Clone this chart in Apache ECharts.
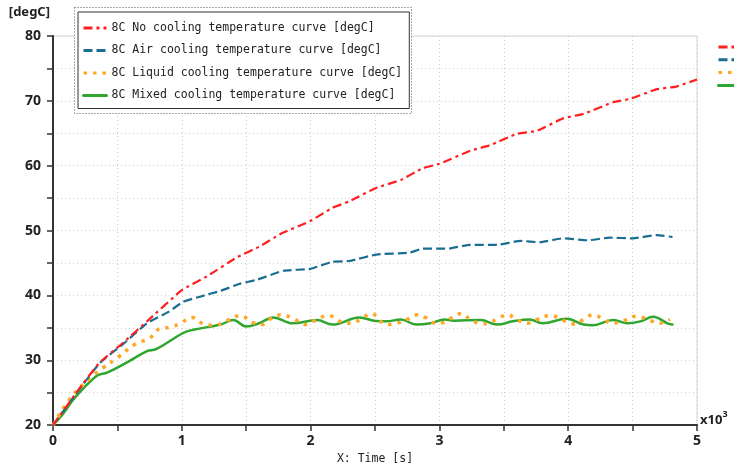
<!DOCTYPE html>
<html>
<head>
<meta charset="utf-8">
<script src="https://cdn.jsdelivr.net/npm/echarts@6/dist/echarts.min.js"></script>
<style>html,body{margin:0;padding:0;background:#fff}#c{width:734px;height:470px}</style>
</head>
<body>
<div id="c"></div>
<script>
// Time in thousands of seconds (x10^3 s), temperature in degC
const seriesNames = [
  '8C No cooling temperature curve [degC]',
  '8C Air cooling temperature curve [degC]',
  '8C Liquid cooling temperature curve [degC]',
  '8C Mixed cooling temperature curve [degC]'
];
const noCoolT = [0, 0.2, 0.36, 0.55, 0.73, 1.0, 1.2, 1.43, 1.6, 1.77, 2.0, 2.17, 2.3, 2.5, 2.7, 2.87, 3.0, 3.24, 3.4, 3.6, 3.76, 3.96, 4.12, 4.35, 4.48, 4.69, 4.84, 5.0];
const noCoolV = [20, 25.5, 29.6, 32.8, 36, 40.8, 43, 45.9, 47.5, 49.5, 51.5, 53.5, 54.5, 56.5, 57.8, 59.6, 60.3, 62.3, 63.2, 64.9, 65.4, 67.3, 68.0, 69.8, 70.3, 71.8, 72.2, 73.3];
const airT = [0, 0.2, 0.365, 0.55, 0.73, 0.9, 1.01, 1.14, 1.3, 1.45, 1.58, 1.79, 2.0, 2.17, 2.3, 2.51, 2.77, 2.87, 3.06, 3.24, 3.45, 3.63, 3.78, 3.96, 4.15, 4.32, 4.5, 4.69, 4.81];
const airV = [20, 25.4, 29.6, 32.6, 35.7, 37.5, 39, 39.8, 40.7, 41.8, 42.4, 43.8, 44.1, 45.2, 45.3, 46.3, 46.6, 47.2, 47.2, 47.8, 47.8, 48.4, 48.2, 48.8, 48.5, 48.9, 48.8, 49.3, 49.0];
const liquidT = [0, 0.15, 0.31, 0.38, 0.5, 0.64, 0.75, 0.83, 0.91, 0.99, 1.08, 1.18, 1.26, 1.34, 1.46, 1.54, 1.62, 1.68, 1.77, 1.85, 1.97, 2.03, 2.14, 2.24, 2.32, 2.4, 2.47, 2.59, 2.67, 2.75, 2.83, 2.89, 2.97, 3.03, 3.1, 3.17, 3.24, 3.33, 3.39, 3.46, 3.53, 3.6, 3.68, 3.76, 3.86, 3.98, 4.05, 4.12, 4.19, 4.27, 4.34, 4.42, 4.53, 4.64, 4.71, 4.79];
const liquidV = [20, 24.5, 27.6, 28.7, 30.4, 32.5, 33.4, 34.9, 35.1, 35.7, 36.6, 35.5, 35.4, 36, 36.9, 35.9, 35.5, 36.3, 37, 36.6, 35.5, 36.1, 36.9, 35.9, 35.7, 36.5, 37.2, 35.5, 35.7, 36.3, 37, 36.6, 35.7, 35.8, 36.6, 37.2, 36.3, 35.6, 35.8, 36.5, 37, 36.3, 35.7, 36.3, 36.9, 36, 35.6, 36.3, 37, 36.4, 35.7, 36, 36.8, 36.1, 35.7, 36.3];
const mixedT = [0, 0.08, 0.16, 0.34, 0.42, 0.55, 0.73, 0.8, 1.01, 1.09, 1.3, 1.4, 1.5, 1.6, 1.71, 1.86, 2.05, 2.17, 2.38, 2.49, 2.59, 2.7, 2.82, 2.93, 3.04, 3.11, 3.32, 3.45, 3.57, 3.7, 3.8, 3.99, 4.12, 4.19, 4.35, 4.46, 4.56, 4.66, 4.77, 4.81];
const mixedV = [20, 21.8, 24, 27.6, 28.1, 29.4, 31.4, 31.7, 34.2, 34.7, 35.5, 36.2, 35.2, 35.7, 36.6, 35.7, 36.2, 35.5, 36.6, 36.1, 36.0, 36.3, 35.5, 35.7, 36.3, 36.1, 36.2, 35.5, 36.0, 36.3, 35.7, 36.4, 35.5, 35.4, 36.2, 35.7, 36.0, 36.7, 35.7, 35.5];
const xTickLabels = ['0', '1', '2', '3', '4', '5'];
const yTickLabels = ['20', '30', '40', '50', '60', '70', '80'];

const pairs = (t, v) => t.map((x, i) => [x, v[i]]);
const colors = ['#ff1f1f', '#1b6e91', '#ffa726', '#2fa62f'];
const styles = [
  {type: [9, 4, 3, 4], width: 2.2, cap: 'butt'},
  {type: [9, 4], width: 2.2, cap: 'butt'},
  {type: [3.5, 6], width: 3.5, cap: 'butt'},
  {type: 'solid', width: 2.5, cap: 'round'}
];
const datasets = [pairs(noCoolT, noCoolV), pairs(airT, airV), pairs(liquidT, liquidV), pairs(mixedT, mixedV)];
const smoothing = [0.15, 0.15, 0.4, 0.4];

const chart = echarts.init(document.getElementById('c'), null, {renderer: 'canvas'});
const monoFont = '"DejaVu Sans Mono", "Liberation Mono", monospace';
const labelFont = '"Noto Sans", "DejaVu Sans", sans-serif';
const noSymbol = {color: 'transparent', borderWidth: 0, opacity: 0};

chart.setOption({
  animation: false,
  backgroundColor: '#fff',
  color: colors,
  grid: {left: 53, right: 37, top: 36, bottom: 40, show: true, borderColor: '#d4d4d4', borderWidth: 1, backgroundColor: 'transparent'},
  legend: [{
    orient: 'vertical', left: 78, top: 12,
    data: seriesNames,
    backgroundColor: '#fff',
    borderColor: '#333', borderWidth: 1,
    padding: [10, 7, 7, 4],
    itemWidth: 23, itemHeight: 14, itemGap: 10.5,
    itemStyle: noSymbol,
    lineStyle: {width: 3},
    textStyle: {fontFamily: monoFont, fontSize: 11.5, color: '#222'},
    z: 10
  }, {
    orient: 'vertical', left: 712, top: 36,
    data: seriesNames,
    itemWidth: 30, itemHeight: 12, itemGap: 2,
    itemStyle: noSymbol,
    lineStyle: {width: 3},
    formatter: () => '',
    textStyle: {fontSize: 1},
    selectedMode: false
  }],
  graphic: [{
    type: 'rect', left: 74, top: 7, z: 9,
    shape: {width: 337, height: 106},
    style: {fill: '#fff', stroke: '#555', lineWidth: 1, lineDash: [1, 2]}
  }, {
    type: 'text', left: 700, top: 410,
    style: {
      text: '{a|x10}{b|3}',
      rich: {
        a: {fontFamily: labelFont, fontWeight: 'bold', fontSize: 13, fill: '#222', verticalAlign: 'bottom'},
        b: {fontFamily: labelFont, fontWeight: 'bold', fontSize: 9, fill: '#222', verticalAlign: 'top', padding: [0, 0, 8, 0]}
      }
    }
  }],
  xAxis: {
    type: 'value', min: 0, max: 5, interval: 0.5,
    name: 'X: Time [s]', nameLocation: 'middle', nameGap: 26,
    nameTextStyle: {fontFamily: monoFont, fontSize: 11.5, color: '#222'},
    axisLine: {show: true, onZero: false, lineStyle: {color: '#333', width: 2}},
    axisTick: {show: true, length: 6, lineStyle: {color: '#333', width: 1.5}},
    axisLabel: {
      margin: 9, fontFamily: labelFont, fontWeight: 'bold', fontSize: 14, color: '#222',
      formatter: v => (Math.abs(v - Math.round(v)) < 1e-9 ? xTickLabels[Math.round(v)] : '')
    },
    splitLine: {show: true, lineStyle: {color: '#cfcfcf', type: [1, 3], width: 1}}
  },
  yAxis: {
    type: 'value', min: 20, max: 80, interval: 5,
    name: '[degC]', nameLocation: 'end', nameGap: 17,
    nameTextStyle: {fontFamily: labelFont, fontWeight: 'bold', fontSize: 13, color: '#222', align: 'right', padding: [0, 3, 0, 0]},
    axisLine: {show: true, onZero: false, lineStyle: {color: '#333', width: 2}},
    axisTick: {show: true, length: 6, lineStyle: {color: '#333', width: 1.5}},
    axisLabel: {
      margin: 12, fontFamily: labelFont, fontWeight: 'bold', fontSize: 14, color: '#222',
      formatter: v => (v % 10 === 0 ? yTickLabels[(v - 20) / 10] : '')
    },
    splitLine: {show: true, lineStyle: {color: '#cfcfcf', type: [1, 3], width: 1}}
  },
  series: seriesNames.map((n, i) => ({
    name: n, type: 'line', data: datasets[i],
    showSymbol: false, symbol: 'none',
    smooth: smoothing[i],
    lineStyle: {color: colors[i], width: styles[i].width, type: styles[i].type, cap: styles[i].cap},
    itemStyle: {color: colors[i]},
    z: 3 + (3 - i)
  }))
});
</script>
</body>
</html>
